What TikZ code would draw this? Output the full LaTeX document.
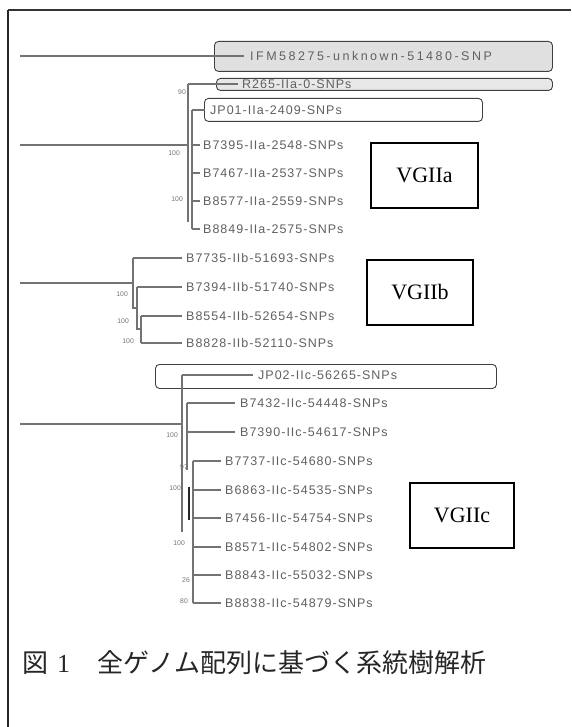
\documentclass[tikz,border=0pt]{standalone}
\usepackage{fontspec}
\setmainfont{Liberation Serif}
\newfontfamily\labfont[LetterSpace=8]{Liberation Sans}
\newfontfamily\ifmfont[LetterSpace=20]{Liberation Sans}
\newfontfamily\bsfont{Liberation Sans}
\newfontfamily\jpfont{Noto Sans CJK JP}
\begin{document}
\begin{tikzpicture}[x=1pt,y=-1pt,
  br/.style={draw=black!55, line width=1.2pt},
  lab/.style={anchor=west, inner sep=0pt, text=black!62, font=\labfont\fontsize{12.5}{14}\selectfont},
  bs/.style={anchor=east, inner sep=0pt, text=black!55, font=\bsfont\fontsize{6.8}{7}\selectfont},
  rbox/.style={draw=black!75, line width=0.9pt, rounded corners=4pt, anchor=north west, inner sep=0pt},
  vbox/.style={draw=black, line width=1.1pt, inner sep=0pt, font=\rmfamily\fontsize{22}{24}\selectfont}
]
\useasboundingbox (0,0) rectangle (571,727);
\fill[white] (0,0) rectangle (571,727);
% frame
\coordinate (fbl) at (8,727);
\coordinate (ftl) at (8,10);
\coordinate (ftr) at (571,10);
\draw[black!85, line width=1.6pt] (fbl) -- (ftl);
\draw[black!80, line width=1.1pt] (ftl) -- (ftr);

% rounded highlight boxes
\node[rbox, fill=black!12, minimum width=338pt, minimum height=30pt] (ifmbox) at (214,41) {};
\node[rbox, fill=black!9, minimum width=336pt, minimum height=12pt] (rbox1) at (216,78) {};
\node[rbox, fill=white, minimum width=278pt, minimum height=23pt] (jp1box) at (204,98) {};
\node[rbox, fill=white, minimum width=341pt, minimum height=24pt] (jp2box) at (155,364) {};

% group boxes
\node[vbox, minimum width=107pt, minimum height=65pt] (vga) at (424.5,175.5) {VGIIa};
\node[vbox, minimum width=106pt, minimum height=65pt] (vgb) at (420,292.5) {VGIIb};
\node[vbox, minimum width=104pt, minimum height=65pt] (vgc) at (462,515.5) {VGIIc};

% ---------- outgroup
\node[lab, font=\ifmfont\fontsize{12.5}{14}\selectfont] (ifm) at (250,56) {IFM58275-unknown-51480-SNP};
\coordinate (r0) at (20,56);
\draw[br] (r0) -- ([xshift=-6pt]ifm.west);

% ---------- VGIIa
\node[lab] (a1) at (242,84) {R265-IIa-0-SNPs};
\node[lab] (a2) at (210,110) {JP01-IIa-2409-SNPs};
\node[lab] (a3) at (203,145) {B7395-IIa-2548-SNPs};
\node[lab] (a4) at (203,173) {B7467-IIa-2537-SNPs};
\node[lab] (a5) at (203,201) {B8577-IIa-2559-SNPs};
\node[lab] (a6) at (203,229) {B8849-IIa-2575-SNPs};
\coordinate (ra) at (20,145);
\coordinate (va1) at (188,84);
\coordinate (va1b) at (188,222);
\coordinate (va2) at (192,110);
\coordinate (va2b) at (192,229);
\draw[br] (va1) -- (va1b);
\draw[br] (va2) -- (va2b);
\draw[br] (ra) -- (va1 |- ra);
\draw[br] (va1) -- ([xshift=-4pt]a1.west);
\draw[br] (va2) -- ([xshift=-5pt]a2.west);
\draw[br] (va2 |- a3) -- ([xshift=-3pt]a3.west);
\draw[br] (va2 |- a4) -- ([xshift=-3pt]a4.west);
\draw[br] (va2 |- a5) -- ([xshift=-3pt]a5.west);
\draw[br] (va2b) -- ([xshift=-3pt]a6.west);
\node[bs] (ba1) at (186,92) {90};
\node[bs] (ba2) at (180,153) {100};
\node[bs] (ba3) at (183,199) {100};

% ---------- VGIIb
\node[lab] (b1) at (186,258) {B7735-IIb-51693-SNPs};
\node[lab] (b2) at (186,287) {B7394-IIb-51740-SNPs};
\node[lab] (b3) at (186,316) {B8554-IIb-52654-SNPs};
\node[lab] (b4) at (186,343) {B8828-IIb-52110-SNPs};
\coordinate (rb) at (20,283);
\coordinate (vb1) at (133,258);
\coordinate (vb1b) at (133,308);
\coordinate (vb2) at (137,287);
\coordinate (vb2b) at (137,329);
\coordinate (vb3) at (141,316);
\coordinate (vb3b) at (141,343);
\draw[br] (vb1) -- (vb1b) -- (vb1b -| vb2);
\draw[br] (vb2) -- (vb2b) -- (vb2b -| vb3);
\draw[br] (vb3) -- (vb3b);
\draw[br] (rb) -- (vb1 |- rb);
\draw[br] (vb1) -- ([xshift=-4pt]b1.west);
\draw[br] (vb2) -- ([xshift=-4pt]b2.west);
\draw[br] (vb3) -- ([xshift=-4pt]b3.west);
\draw[br] (vb3b) -- ([xshift=-4pt]b4.west);
\node[bs] (bb1) at (128,294) {100};
\node[bs] (bb2) at (129,321) {100};
\node[bs] (bb3) at (134,341) {100};

% ---------- VGIIc
\node[lab] (c0) at (258,375) {JP02-IIc-56265-SNPs};
\node[lab] (c1) at (240,403) {B7432-IIc-54448-SNPs};
\node[lab] (c2) at (240,432) {B7390-IIc-54617-SNPs};
\node[lab] (c3) at (225,461) {B7737-IIc-54680-SNPs};
\node[lab] (c4) at (225,490) {B6863-IIc-54535-SNPs};
\node[lab] (c5) at (225,518) {B7456-IIc-54754-SNPs};
\node[lab] (c6) at (225,547) {B8571-IIc-54802-SNPs};
\node[lab] (c7) at (225,575) {B8843-IIc-55032-SNPs};
\node[lab] (c8) at (225,603) {B8838-IIc-54879-SNPs};
\coordinate (rc) at (20,424);
\coordinate (vc1) at (182,375);
\coordinate (vc1b) at (182,532);
\coordinate (vc2) at (187,403);
\coordinate (vc2b) at (187,470);
\coordinate (vc3) at (193,461);
\coordinate (vc3b) at (193,603);
\draw[br] (vc1) -- (vc1b);
\draw[br] (vc2) -- (vc2b);
\draw[br] (vc3) -- (vc3b);
\draw[black!85, line width=1.8pt] (189,487) -- (189,520);
\draw[br] (rc) -- (vc1 |- rc);
\draw[br] (vc1) -- ([xshift=-5pt]c0.west);
\draw[br] (vc2) -- ([xshift=-5pt]c1.west);
\draw[br] (vc2 |- c2) -- ([xshift=-5pt]c2.west);
\draw[br] (vc3) -- ([xshift=-4pt]c3.west);
\draw[br] (vc3 |- c4) -- ([xshift=-4pt]c4.west);
\draw[br] (vc3 |- c5) -- ([xshift=-4pt]c5.west);
\draw[br] (vc3 |- c6) -- ([xshift=-4pt]c6.west);
\draw[br] (vc3 |- c7) -- ([xshift=-4pt]c7.west);
\draw[br] (vc3b) -- ([xshift=-4pt]c8.west);
\node[bs] (bc1) at (178,435) {100};
\node[bs] (bc2) at (188,467) {97};
\node[bs] (bc3) at (181,488) {100};
\node[bs] (bc4) at (185,543) {100};
\node[bs] (bc5) at (190,580) {26};
\node[bs] (bc6) at (188,601) {80};

% ---------- caption
\node[anchor=west, inner sep=0pt, text=black!85, font=\jpfont\fontsize{26}{28}\selectfont] (cap) at (22,663) {図\hspace{9pt}{\rmfamily 1}\hspace{27pt}全ゲノム配列に基づく系統樹解析};
\end{tikzpicture}
\end{document}
